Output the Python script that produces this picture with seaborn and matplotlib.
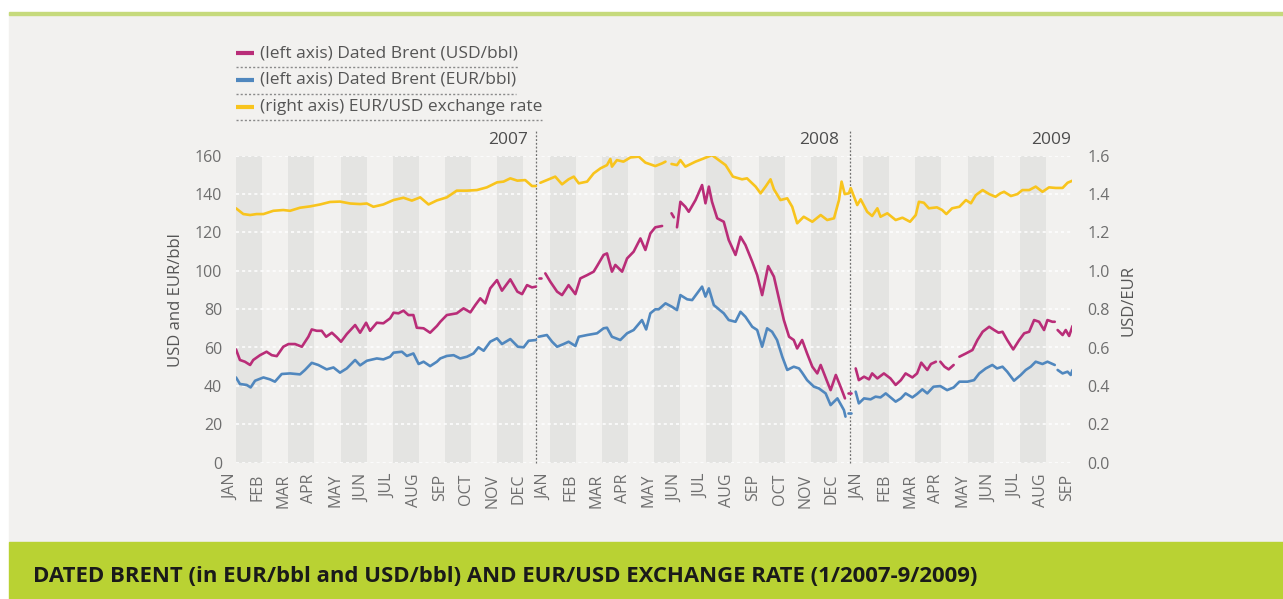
import matplotlib
matplotlib.use("Agg")
import matplotlib.pyplot as plt
from matplotlib.lines import Line2D
from matplotlib.patches import Rectangle
from matplotlib.transforms import ScaledTranslation
import seaborn as sns
import numpy as np
import pandas as pd

nan = np.nan

# x positions are in months since Jan 2007 (0 = JAN 2007, 32 = SEP 2009)
month_labels = (["JAN", "FEB", "MAR", "APR", "MAY", "JUN",
                 "JUL", "AUG", "SEP", "OCT", "NOV", "DEC"] * 3)[:33]
year_labels = ["2007", "2008", "2009"]
year_breaks = [11.5, 23.5]

# Dated Brent in USD/bbl (left axis)
usd_x = [0.00, 0.15, 0.34, 0.54, 0.66, 0.92, 1.17, 1.37, 1.56, 1.81, 2.01, 2.26, 2.52, 2.77, 2.90,
         3.09, 3.28, 3.45, 3.67, 3.86, 4.02, 4.24, 4.56, 4.75, 4.98, 5.13, 5.39, 5.64, 5.90, 6.03,
         6.22, 6.41, 6.60, 6.79, 6.92, 7.18, 7.43, 7.69, 7.82, 8.07, 8.45, 8.71, 8.97, 9.16, 9.35,
         9.54, 9.73, 9.99, 10.18, 10.50, 10.77, 10.95, 11.14, 11.33, 11.48, 11.53, 11.58, 11.68, 11.76,
         11.84, 12.03, 12.29, 12.48, 12.73, 12.99, 13.18, 13.44, 13.69, 13.82, 14.07, 14.20, 14.39,
         14.52, 14.78, 14.97, 15.22, 15.48, 15.67, 15.86, 16.05, 16.31, 16.50, 16.67, 16.76, 16.82,
         16.88, 17.01, 17.20, 17.33, 17.59, 17.84, 17.97, 18.10, 18.22, 18.42, 18.67, 18.86, 19.12,
         19.31, 19.50, 19.76, 19.95, 20.14, 20.37, 20.59, 20.78, 20.97, 21.17, 21.35, 21.48, 21.67,
         21.86, 22.06, 22.25, 22.38, 22.63, 22.76, 22.96, 23.14, 23.31, 23.38, 23.44, 23.53, 23.62,
         23.72, 23.84, 24.04, 24.23, 24.35, 24.55, 24.80, 25.05, 25.25, 25.45, 25.63, 25.89, 26.07,
         26.23, 26.46, 26.60, 26.79, 26.88, 26.96, 27.12, 27.28, 27.47, 27.58, 27.69, 27.94, 28.19,
         28.38, 28.58, 28.83, 29.02, 29.19, 29.34, 29.52, 29.75, 29.98, 30.17, 30.36, 30.55, 30.74,
         30.93, 31.06, 31.25, 31.34, 31.40, 31.45, 31.64, 31.76, 31.89, 32.02]
usd_y = [59, 53.5, 52.6, 50.9, 53.5, 56, 57.8, 56, 55.5, 60.4, 61.8, 61.8, 60.4, 65.6, 69.4,
         68.7, 68.7, 65.6, 67.7, 65.3, 63, 67, 71.7, 67.7, 72.9, 68.7, 72.9, 72.6, 75.2, 78.1,
         77.8, 79.2, 76.9, 76.9, 70.3, 70, 67.7, 71.2, 73.4, 76.9, 77.8, 80.4, 78.3, 82.1, 85.6,
         83, 90.8, 95.1, 89.6, 95.5, 89.1, 87.8, 92.5, 91.3, 91.7, nan, 96.2, 96.2, nan,
         98.6, 94.3, 89.1, 87.3, 92.5, 87.8, 96, 97.7, 99.5, 102.4, 108.2, 109, 99.5,
         103, 99.5, 106.4, 109.9, 116.8, 110.8, 119.4, 122.6, 123.3, nan, 129.9, 127.8, nan,
         122.6, 135.9, 133.3, 130.7, 136.8, 144.6, 135.1, 143.8, 135.9, 127.3, 125.5, 116, 108.2,
         117.7, 113.4, 104.7, 97.7, 87.3, 102.4, 96.9, 85.6, 74.3, 65.6, 63.9, 59.5, 63.9,
         56.9, 50, 46.5, 50.9, 42.2, 37.8, 45.7, 39.6, 33.5, nan, 36.5, 36.5, nan,
         49.1, 43, 44.8, 43.4, 46.5, 43.9, 46.5, 43.9, 40.5, 43, 46.5, 44.4, 46.5,
         52.1, 48.3, 51.4, 52.6, nan, 52.6, 50, 48.6, 50.9, nan, 55.2, 56.9, 58.7,
         63.9, 68.2, 70.8, 69.1, 67.7, 68.2, 63.9, 59, 63.9, 67.4, 68.2, 74.3, 73.4,
         69.1, 74.3, 73.4, 73.4, nan, 69.1, 66.5, 69.1, 66, 71.2]

# Dated Brent in EUR/bbl (left axis)
eur_x = [0.00, 0.15, 0.41, 0.56, 0.73, 1.05, 1.30, 1.49, 1.75, 2.07, 2.45, 2.64, 2.90, 3.15, 3.47,
         3.73, 3.98, 4.24, 4.56, 4.75, 5.01, 5.39, 5.64, 5.90, 6.03, 6.35, 6.54, 6.79, 6.99, 7.18,
         7.43, 7.69, 7.82, 8.07, 8.33, 8.58, 8.84, 9.09, 9.28, 9.48, 9.73, 9.99, 10.18, 10.50,
         10.79, 11.01, 11.20, 11.48, 11.53, 11.58, 11.90, 12.10, 12.29, 12.54, 12.73, 12.99, 13.12,
         13.44, 13.82, 14.07, 14.20, 14.39, 14.71, 14.97, 15.22, 15.54, 15.70, 15.86, 16.05, 16.18,
         16.44, 16.69, 16.88, 17.01, 17.27, 17.46, 17.84, 17.97, 18.10, 18.29, 18.67, 18.86, 19.12,
         19.31, 19.50, 19.76, 19.95, 20.14, 20.33, 20.52, 20.71, 20.91, 21.10, 21.35, 21.55, 21.67,
         21.86, 22.12, 22.31, 22.57, 22.76, 23.02, 23.27, 23.33, 23.38, 23.44, 23.53, 23.62,
         23.72, 23.84, 24.04, 24.29, 24.48, 24.67, 24.87, 25.25, 25.45, 25.63, 25.89, 26.07, 26.27,
         26.46, 26.70, 26.96, 27.22, 27.47, 27.69, 28.00, 28.25, 28.45, 28.70, 28.95, 29.13, 29.34,
         29.52, 29.78, 30.04, 30.23, 30.42, 30.61, 30.87, 31.06, 31.34, 31.40, 31.45, 31.64, 31.83,
         31.95, 32.02]
eur_y = [44.4, 41, 40.5, 39.2, 42.7, 44.4, 43.4, 42.2, 46.2, 46.5, 46, 48.3, 52, 50.9, 48.6,
         49.6, 46.9, 49.1, 53.5, 50.7, 53.1, 54.3, 53.8, 55.2, 57.3, 57.8, 55.6, 56.9, 51.4, 52.6,
         50.3, 52.6, 54.3, 55.6, 56, 54.3, 55.2, 56.9, 60.1, 58.3, 63, 64.8, 61.8, 64.4,
         60.4, 60.1, 63.5, 63.9, nan, 65.6, 66.5, 63, 60.4, 61.8, 63, 60.8, 65.6,
         66.5, 67.4, 70, 70.3, 65.6, 63.9, 67.4, 69.1, 74.3, 69.4, 77.8, 79.9, 79.9,
         83, 81.2, 79.5, 87.3, 85.1, 84.7, 91.7, 86.5, 90.8, 82.1, 77.8, 74.3, 73.4,
         78.6, 76, 70.8, 69.1, 60.4, 70, 68.2, 63.9, 55.2, 48.3, 50, 49.1, 46.9,
         43, 39.6, 38.7, 36.1, 30, 33.5, 27.4, 24, nan, 26, 26, nan,
         37, 30.9, 33.5, 33, 34.4, 34, 36.1, 31.8, 33.5, 36.1, 34, 35.8, 38.2,
         36.1, 39.6, 39.9, 37.8, 39.2, 42.2, 42.2, 43, 46.5, 49.1, 50.9, 49.1, 50,
         47.4, 42.7, 45.7, 48.3, 50, 52.6, 51.4, 52.6, 50.9, nan, 48.3, 46.5, 47.4,
         45.7, 48.3]

# EUR/USD exchange rate (right axis)
rate_x = [0.00, 0.28, 0.54, 0.79, 1.05, 1.43, 1.81, 2.07, 2.45, 2.84, 3.22, 3.60, 3.98, 4.37,
          4.75, 5.01, 5.26, 5.64, 6.03, 6.41, 6.73, 7.05, 7.37, 7.69, 8.07, 8.45, 8.84, 9.22,
          9.60, 9.99, 10.24, 10.50, 10.77, 11.07, 11.33, 11.48, 11.56, 11.65, 11.90, 12.22, 12.48,
          12.73, 12.93, 13.12, 13.44, 13.69, 13.95, 14.20, 14.33, 14.39, 14.58, 14.83, 15.10,
          15.42, 15.67, 16.05, 16.31, 16.44, 16.55, 16.67, 16.88, 17.01, 17.20, 17.59, 17.91, 18.22,
          18.48, 18.74, 19.02, 19.37, 19.56, 19.89, 20.08, 20.27, 20.46, 20.59, 20.84, 21.10,
          21.29, 21.48, 21.73, 22.06, 22.38, 22.63, 22.89, 23.08, 23.18, 23.30, 23.46, 23.53,
          23.78, 23.91, 24.16, 24.35, 24.55, 24.67, 24.93, 25.25, 25.51, 25.80, 26.02, 26.14,
          26.33, 26.52, 26.83, 27.03, 27.19, 27.41, 27.69, 27.94, 28.13, 28.32, 28.58, 28.83,
          29.07, 29.26, 29.40, 29.66, 29.91, 30.10, 30.36, 30.61, 30.87, 31.12, 31.38, 31.64,
          31.83, 32.02]
rate_y = [1.325, 1.295, 1.29, 1.295, 1.295, 1.312, 1.316, 1.312, 1.328, 1.335, 1.345, 1.358,
          1.36, 1.35, 1.347, 1.35, 1.333, 1.345, 1.368, 1.38, 1.365, 1.382, 1.345, 1.366,
          1.382, 1.417, 1.417, 1.42, 1.434, 1.46, 1.464, 1.481, 1.469, 1.472, 1.441, 1.441, nan,
          1.458, 1.472, 1.49, 1.45, 1.476, 1.49, 1.455, 1.464, 1.507, 1.533, 1.55, 1.582, 1.542,
          1.576, 1.568, 1.59, 1.594, 1.563, 1.545, 1.559, 1.568, nan, 1.556, 1.55, 1.576, 1.542,
          1.568, 1.585, 1.602, 1.576, 1.55, 1.49, 1.476, 1.481, 1.438, 1.403, 1.438, 1.476,
          1.424, 1.368, 1.377, 1.333, 1.247, 1.281, 1.255, 1.29, 1.264, 1.273, 1.368, 1.464,
          1.399, 1.403, 1.43, 1.342, 1.372, 1.307, 1.285, 1.325, 1.281, 1.299, 1.264, 1.276,
          1.255, 1.29, 1.359, 1.354, 1.325, 1.33, 1.316, 1.295, 1.325, 1.333, 1.368, 1.351,
          1.394, 1.42, 1.399, 1.385, 1.403, 1.411, 1.389, 1.399, 1.42, 1.42, 1.438, 1.411,
          1.434, 1.431, 1.431, 1.458, 1.469]

series_names = ["(left axis) Dated Brent (USD/bbl)",
                "(left axis) Dated Brent (EUR/bbl)",
                "(right axis) EUR/USD exchange rate"]
colors = ["#b92d78", "#5087be", "#f8c41d"]
title = "DATED BRENT (in EUR/bbl and USD/bbl) AND EUR/USD EXCHANGE RATE (1/2007-9/2009)"


def segments(x, y):
    # split on NaN so gaps in the series stay gaps
    df = pd.DataFrame({"x": x, "y": y})
    df["seg"] = df["y"].isna().cumsum()
    return df.dropna()


W, H = 1283, 599
def fx(px):
    return px / W
def fy(py):
    return 1 - py / H


sns.set_style("white")
plt.rcParams["font.family"] = ["Open Sans", "DejaVu Sans"]

fig = plt.figure(figsize=(W / 100, H / 100), dpi=100, facecolor="white")

# background panel, top rule and bottom caption banner
fig.patches.append(Rectangle((fx(9), fy(542)), fx(W) - fx(9), fy(13) - fy(542),
                             transform=fig.transFigure, color="#f2f1ef", zorder=-10))
fig.patches.append(Rectangle((fx(9), fy(14.5)), fx(W) - fx(9), fy(11.5) - fy(14.5),
                             transform=fig.transFigure, color="#c6da7c", zorder=-9))
fig.patches.append(Rectangle((fx(9), fy(H)), fx(W) - fx(9), fy(542) - fy(H),
                             transform=fig.transFigure, color="#b9d233", zorder=-9))

ax = fig.add_axes([fx(236), fy(462.7), fx(1072) - fx(236), fy(155.5) - fy(462.7)])
ax.set_facecolor("none")
ax2 = ax.twinx()
ax2.set_facecolor("none")

# alternating month bands
for i in range(0, 32, 2):
    ax.axvspan(i, i + 1, color="#e4e4e2", lw=0, zorder=0)
for v in range(0, 161, 20):
    ax.axhline(v, color="white", lw=1.1, ls=(0, (2, 2)), zorder=1)
for xb in year_breaks:
    ax.axvline(xb, ymin=0, ymax=1.083, color="#6f6f6f", lw=0.9, ls=(0, (1.5, 1.5)),
               clip_on=False, zorder=3)

sns.lineplot(data=segments(usd_x, usd_y), x="x", y="y", units="seg", estimator=None,
             color=colors[0], lw=1.9, ax=ax, legend=False, zorder=4)
sns.lineplot(data=segments(eur_x, eur_y), x="x", y="y", units="seg", estimator=None,
             color=colors[1], lw=1.9, ax=ax, legend=False, zorder=4)
sns.lineplot(data=segments(rate_x, rate_y), x="x", y="y", units="seg", estimator=None,
             color=colors[2], lw=1.9, ax=ax2, legend=False, zorder=4)

ax.set_xlim(0, 32)
ax.set_ylim(0, 160)
ax2.set_ylim(0, 1.6)
for a in (ax, ax2):
    a.set_xlabel("")
    a.set_ylabel("")
    for s in a.spines.values():
        s.set_visible(False)

tick_color = "#6e6e6e"
ax.set_xticks(range(len(month_labels)))
ax.set_xticklabels(month_labels, rotation=90, fontsize=11.5, color=tick_color)
ax.set_yticks(range(0, 161, 20))
ax.set_yticklabels([str(v) for v in range(0, 161, 20)], fontsize=11.5, color=tick_color)
ax2.set_yticks(np.arange(0, 1.61, 0.2))
ax2.set_yticklabels([f"{v:.1f}" for v in np.arange(0, 1.61, 0.2)], fontsize=11.5, color=tick_color)
ax.tick_params(axis="x", length=0, pad=8)
ax.tick_params(axis="y", length=0, pad=10)
ax2.tick_params(axis="y", length=0, pad=11)
shift = ScaledTranslation(-0.05, 0, fig.dpi_scale_trans)
for lbl in ax.get_xticklabels():
    lbl.set_transform(lbl.get_transform() + shift)

fig.text(fx(176), fy(300), "USD and EUR/bbl", rotation=90, ha="center", va="center",
         fontsize=12, color="#555555")
fig.text(fx(1128), fy(300), "USD/EUR", rotation=90, ha="center", va="center",
         fontsize=12, color="#555555")

# year labels sit right-aligned before each break and at the right edge
for lab, px in zip(year_labels, [528, 839, 1071]):
    fig.text(fx(px), fy(140), lab, ha="right", va="center", fontsize=12.5, color="#4d4d4d")

# hand-made legend with dotted underlines
legend_texts = []
for k, (name, col) in enumerate(zip(series_names, colors)):
    yc = 53 + k * 27
    fig.lines.append(Line2D([fx(236), fx(254)], [fy(yc), fy(yc)], transform=fig.transFigure,
                            color=col, lw=3, solid_capstyle="butt"))
    legend_texts.append(fig.text(fx(260), fy(yc), name, ha="left", va="center",
                                 fontsize=12.5, color="#555555"))

title_text = fig.text(fx(33), fy(577), title, ha="left", va="center", fontsize=13.5,
                      fontweight="bold", color="#1a1a1a")

fig.canvas.draw()
renderer = fig.canvas.get_renderer()
# stretch the caption to the width it has in the source layout
tw = title_text.get_window_extent(renderer).width
title_text.set_fontsize(13.5 * 944 / tw)
for k, t in enumerate(legend_texts):
    x1 = t.get_window_extent(renderer).x1
    yl = 67 + k * 26.5
    fig.lines.append(Line2D([fx(236), x1 / W], [fy(yl), fy(yl)], transform=fig.transFigure,
                            color="#8a8a8a", lw=1, ls=(0, (1.5, 1.5))))

fig.savefig("out.png", dpi=100, facecolor=fig.get_facecolor())
